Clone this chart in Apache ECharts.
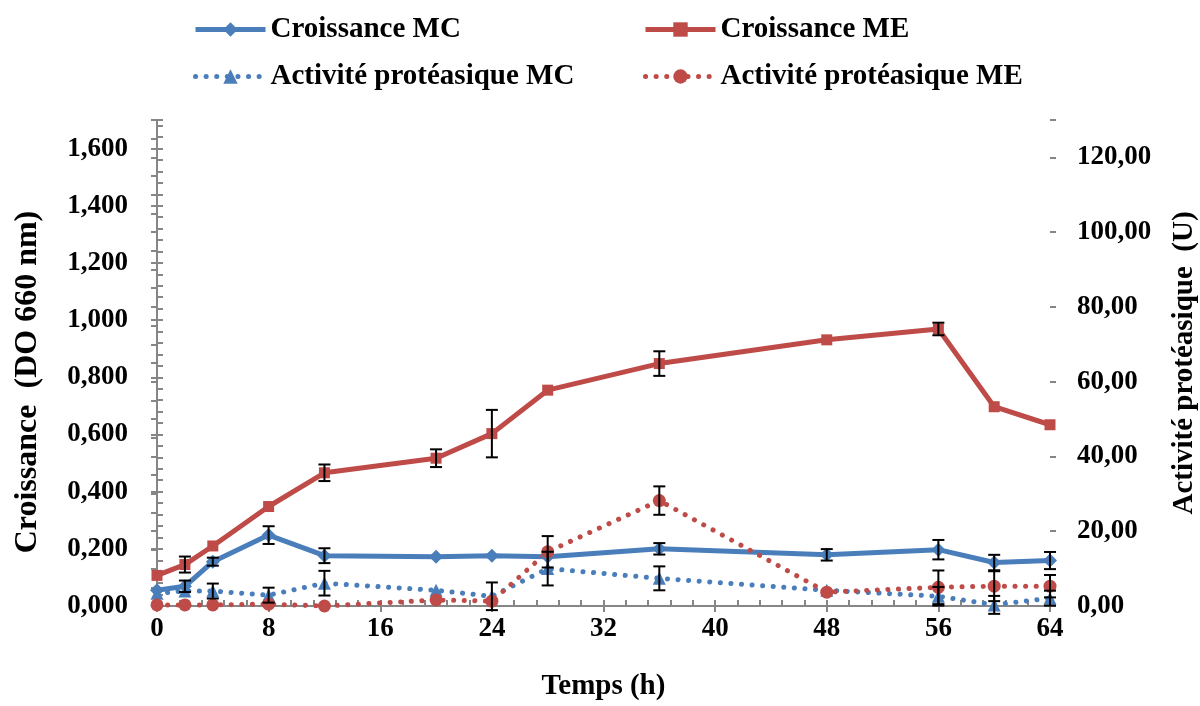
<!DOCTYPE html>
<html><head><meta charset="utf-8">
<script src="https://cdn.jsdelivr.net/npm/echarts@6/dist/echarts.min.js"></script>
<style>html,body{margin:0;padding:0;background:#fff}#c{width:1200px;height:706px}</style>
</head><body><div id="c"></div>
<script>
// ---- data ----
const hours = [0, 2, 4, 8, 12, 20, 24, 28, 36, 48, 56, 60, 64];
const croissanceMC    = [0.055, 0.069, 0.155, 0.248, 0.176, 0.172, 0.176, 0.172, 0.200, 0.179, 0.197, 0.152, 0.159];
const croissanceMCerr = [0, 0.02, 0.014, 0.031, 0.026, 0, 0, 0, 0.02, 0.02, 0.034, 0.027, 0.03];
const croissanceME    = [0.107, 0.145, 0.210, 0.348, 0.466, 0.517, 0.603, 0.755, 0.848, 0.931, 0.969, 0.697, 0.634];
const croissanceMEerr = [0, 0.028, 0, 0, 0.029, 0.031, 0.083, 0, 0.043, 0, 0.022, 0, 0];
const activiteMC      = [3.4, 4.0, 4.0, 2.9, 6.1, 4.2, 2.6, 10.0, 7.4, 4.2, 2.6, 0.3, 2.1];
const activiteMCerr   = [0, 0, 2.0, 2.0, 3.3, 0, 3.7, 4.5, 3.2, 0, 2.5, 2.4, 2.0];
const activiteME      = [0.3, 0.3, 0.3, 0.5, 0.0, 1.6, 1.3, 14.5, 28.2, 3.7, 5.0, 5.3, 5.3];
const activiteMEerr   = [0, 0, 0, 0, 0, 0, 0, 4.2, 3.8, 0, 4.5, 4.0, 3.0];
const names = ['Croissance MC', 'Croissance ME', 'Activité protéasique MC', 'Activité protéasique ME'];
const yTitleLeft = 'Croissance  (DO 660 nm)';
const yTitleRight = 'Activité protéasique  (U)';
const xTitle = 'Temps (h)';

const FONT = '"Liberation Serif", "Times New Roman", serif';
const BLUE = '#4A7EBB', RED = '#BE4B48', AXIS = '#868686';

const zip = (v) => hours.map((h, i) => [h, v[i]]);

function errSeries(vals, errs, yAxisIndex) {
  const data = hours.map((h, i) => [h, vals[i], errs[i]]).filter(d => d[2] > 0);
  return {
    type: 'custom', yAxisIndex: yAxisIndex, z: 10, silent: true, data: data,
    encode: { x: 0, y: 1 },
    renderItem: function (params, api) {
      const x = api.value(0), y = api.value(1), e = api.value(2);
      const t = api.coord([x, y + e]), b = api.coord([x, y - e]);
      const w = 6, st = { stroke: '#000', lineWidth: 2 };
      return { type: 'group', children: [
        { type: 'line', shape: { x1: t[0], y1: t[1], x2: b[0], y2: b[1] }, style: st },
        { type: 'line', shape: { x1: t[0] - w, y1: t[1], x2: t[0] + w, y2: t[1] }, style: st },
        { type: 'line', shape: { x1: b[0] - w, y1: b[1], x2: b[0] + w, y2: b[1] }, style: st }
      ]};
    }
  };
}

const labelStyle = { color: '#000', fontFamily: FONT, fontWeight: 'bold', fontSize: 27 };
const legendText = { color: '#000', fontFamily: FONT, fontWeight: 'bold', fontSize: 29 };

function legend(name, left, top) {
  return { data: [name], left: left, top: top, itemWidth: 70, itemHeight: 18, itemGap: 0,
    textStyle: legendText, selectedMode: false,
    lineStyle: { width: 5 } };
}

const chart = echarts.init(document.getElementById('c'), null, { renderer: 'canvas' });
chart.setOption({
  animation: false,
  backgroundColor: '#fff',
  grid: { left: 157, right: 150, top: 120, bottom: 93 },
  legend: [
    legend(names[0], 188, 10),
    legend(names[1], 638, 10),
    legend(names[2], 188, 57),
    legend(names[3], 638, 57)
  ],
  xAxis: [
    { type: 'value', min: 0, max: 64, interval: 8,
      axisLine: { lineStyle: { color: AXIS, width: 2 } },
      axisTick: { show: true, inside: true, length: 6, lineStyle: { color: AXIS, width: 2 } },
      minorTick: { show: true, splitNumber: 5, length: 6, lineStyle: { color: AXIS, width: 2 } },
      splitLine: { show: false },
      axisLabel: Object.assign({ margin: 10 }, labelStyle),
      name: xTitle, nameLocation: 'middle', nameGap: 66,
      nameTextStyle: { color: '#000', fontFamily: FONT, fontWeight: 'bold', fontSize: 29 } },
    { type: 'value', min: 0, max: 64, interval: 8, position: 'bottom',
      axisLine: { show: false }, axisLabel: { show: false }, splitLine: { show: false },
      axisTick: { show: true, inside: false, length: 6, lineStyle: { color: AXIS, width: 2 } } }
  ],
  yAxis: [
    { type: 'value', min: 0, max: 1.7, interval: 0.2, position: 'left',
      axisLine: { show: true, lineStyle: { color: AXIS, width: 2 } },
      axisTick: { show: true, inside: true, length: 6, lineStyle: { color: AXIS, width: 2 } },
      minorTick: { show: true, splitNumber: 5, length: 6, lineStyle: { color: AXIS, width: 2 } },
      splitLine: { show: false },
      axisLabel: Object.assign({ margin: 29, showMaxLabel: false,
        formatter: v => v.toFixed(3).replace('.', ',') }, labelStyle) },
    { type: 'value', min: 0, max: 130, interval: 20, position: 'right',
      axisLine: { show: true, lineStyle: { color: AXIS, width: 2 } },
      axisTick: { show: true, inside: true, length: 6, lineStyle: { color: AXIS, width: 2 } },
      minorTick: { show: true, splitNumber: 4, length: 6, lineStyle: { color: AXIS, width: 2 } },
      splitLine: { show: false },
      axisLabel: Object.assign({ margin: 27, showMaxLabel: false,
        formatter: v => v.toFixed(2).replace('.', ',') }, labelStyle) },
    { type: 'value', min: 0, max: 1.7, interval: 0.2, position: 'left',
      axisLine: { show: false }, axisLabel: { show: false }, splitLine: { show: false },
      axisTick: { show: true, inside: false, length: 6, lineStyle: { color: AXIS, width: 2 } } },
    { type: 'value', min: 0, max: 130, interval: 20, position: 'right',
      axisLine: { show: false }, axisLabel: { show: false }, splitLine: { show: false },
      axisTick: { show: true, inside: false, length: 6, lineStyle: { color: AXIS, width: 2 } } }
  ],
  graphic: [
    { type: 'text', x: 28, y: 382, rotation: Math.PI / 2,
      style: { text: yTitleLeft, fill: '#000', font: 'bold 32px ' + FONT,
        align: 'center', verticalAlign: 'middle', textAlign: 'center', textVerticalAlign: 'middle' } },
    { type: 'text', x: 1185, y: 363, rotation: Math.PI / 2,
      style: { text: yTitleRight, fill: '#000', font: 'bold 29px ' + FONT,
        align: 'center', verticalAlign: 'middle', textAlign: 'center', textVerticalAlign: 'middle' } }
  ],
  series: [
    { name: names[0], type: 'line', data: zip(croissanceMC), yAxisIndex: 0,
      color: BLUE, symbol: 'diamond', symbolSize: 14, showAllSymbol: true,
      lineStyle: { width: 5, color: BLUE }, itemStyle: { color: BLUE } },
    { name: names[1], type: 'line', data: zip(croissanceME), yAxisIndex: 0,
      color: RED, symbol: 'rect', symbolSize: 11, showAllSymbol: true,
      lineStyle: { width: 5, color: RED }, itemStyle: { color: RED } },
    { name: names[2], type: 'line', data: zip(activiteMC), yAxisIndex: 1,
      color: BLUE, symbol: 'triangle', symbolSize: 13, showAllSymbol: true,
      lineStyle: { width: 5, color: BLUE, type: [0.1, 10.5], cap: 'round' }, itemStyle: { color: BLUE } },
    { name: names[3], type: 'line', data: zip(activiteME), yAxisIndex: 1,
      color: RED, symbol: 'circle', symbolSize: 13, showAllSymbol: true,
      lineStyle: { width: 5, color: RED, type: [0.1, 10.5], cap: 'round' }, itemStyle: { color: RED } },
    errSeries(croissanceMC, croissanceMCerr, 0),
    errSeries(croissanceME, croissanceMEerr, 0),
    errSeries(activiteMC, activiteMCerr, 1),
    errSeries(activiteME, activiteMEerr, 1)
  ]
});
</script>
</body></html>
